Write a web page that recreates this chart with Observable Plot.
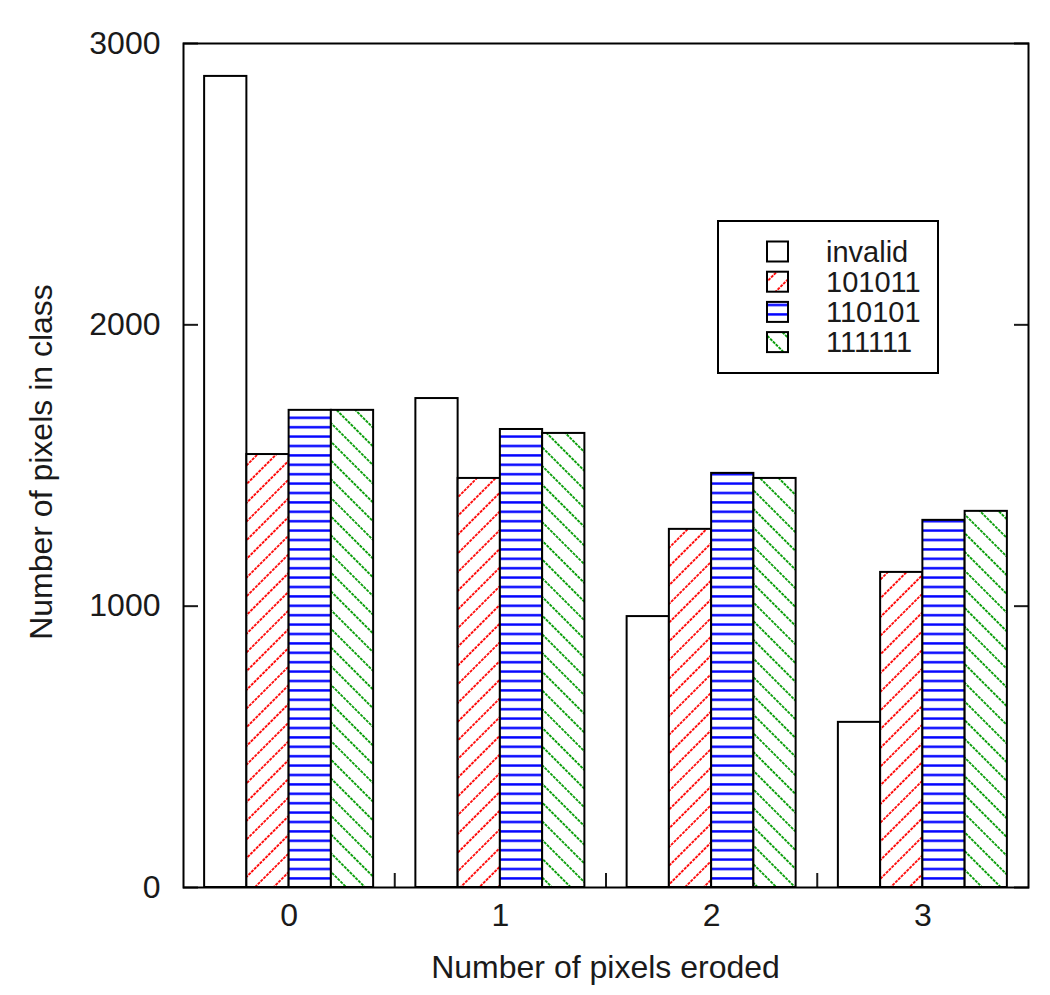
<!DOCTYPE html>
<html>
<head>
<meta charset="utf-8">
<script src="https://cdn.jsdelivr.net/npm/d3@7"></script>
<script src="https://cdn.jsdelivr.net/npm/@observablehq/plot@0.6"></script>
<style>
  html, body { margin: 0; padding: 0; background: white; }
</style>
</head>
<body>
<div id="chart"></div>
<script>
// Data
const groups = [0, 1, 2, 3];
const seriesNames = ["invalid", "101011", "110101", "111111"];
const invalid = [2883, 1738, 963, 587];
const s101011 = [1539, 1454, 1273, 1120];
const s110101 = [1696, 1628, 1472, 1305];
const s111111 = [1696, 1614, 1454, 1337];
const yTicks = [0, 1000, 2000, 3000];
const xMinorTicks = [0.5, 1.5, 2.5];

const seriesValues = [invalid, s101011, s110101, s111111];
const fills = ["white", "url(#hatchRed)", "url(#hatchBlue)", "url(#hatchGreen)"];
const barW = 0.2;

const table = seriesNames.map((name, i) =>
  groups.map((g, j) => ({
    series: name,
    x1: g - 0.4 + i * barW,
    x2: g - 0.4 + (i + 1) * barW,
    value: seriesValues[i][j]
  }))
);

const W = 1050, H = 995;
const mL = 183, mR = 22, mT = 43, mB = 108;
const FONT = "'Liberation Sans', Arial, sans-serif";

const chart = Plot.plot({
  width: W,
  height: H,
  marginLeft: mL,
  marginRight: mR,
  marginTop: mT,
  marginBottom: mB,
  x: { domain: [-0.5, 3.5] },
  y: { domain: [0, 3000] },
  style: { fontFamily: FONT, fontSize: "32px", background: "white", color: "#1a1a1a" },
  marks: [
    ...table.map((rows, i) =>
      Plot.rectY(rows, { x1: "x1", x2: "x2", y: "value", fill: fills[i], stroke: "black", strokeWidth: 2 })
    ),
    Plot.axisY({ ticks: yTicks, tickSize: 0, tickPadding: 23, tickFormat: d3.format("d"), label: null, fontSize: 32 }),
    Plot.axisY({ ticks: yTicks, tickSize: 15, dx: 15, tickFormat: () => "", label: null, strokeWidth: 2 }),
    Plot.axisY({ ticks: yTicks, anchor: "right", tickSize: 15, dx: -15, tickFormat: () => "", label: null, strokeWidth: 2 }),
    Plot.axisX({ ticks: groups, tickSize: 0, tickPadding: 16, tickFormat: d3.format("d"), label: null, fontSize: 32 }),
    Plot.axisX({ ticks: xMinorTicks, tickSize: 14, dy: -14, tickFormat: () => "", label: null, strokeWidth: 2 }),
    Plot.frame({ stroke: "black", strokeWidth: 2 })
  ]
});

document.getElementById("chart").appendChild(chart);

const svg = d3.select(chart);
const defs = svg.insert("defs", ":first-child");

// Red "/" hatch
const sp = 18.7 / Math.SQRT2;
const pr = defs.append("pattern").attr("id", "hatchRed").attr("patternUnits", "userSpaceOnUse")
  .attr("width", sp).attr("height", 20).attr("patternTransform", "rotate(45)");
pr.append("rect").attr("width", sp).attr("height", 20).attr("fill", "white");
pr.append("line").attr("x1", 1).attr("y1", 0).attr("x2", 1).attr("y2", 20)
  .attr("stroke", "#ff0000").attr("stroke-width", 1.8).attr("stroke-dasharray", "3 1");

// Green "\" hatch
const pg = defs.append("pattern").attr("id", "hatchGreen").attr("patternUnits", "userSpaceOnUse")
  .attr("width", sp).attr("height", 20).attr("patternTransform", "rotate(-45)");
pg.append("rect").attr("width", sp).attr("height", 20).attr("fill", "white");
pg.append("line").attr("x1", 1).attr("y1", 0).attr("x2", 1).attr("y2", 20)
  .attr("stroke", "#009a00").attr("stroke-width", 1.8).attr("stroke-dasharray", "3 1");

// Blue horizontal hatch
const pb = defs.append("pattern").attr("id", "hatchBlue").attr("patternUnits", "userSpaceOnUse")
  .attr("width", 20).attr("height", 9.4);
pb.append("rect").attr("width", 20).attr("height", 9.4).attr("fill", "white");
pb.append("rect").attr("x", 0).attr("y", 3).attr("width", 20).attr("height", 2.4).attr("fill", "#0000ff");

// Axis titles
svg.append("text")
  .attr("x", (mL + W - mR) / 2).attr("y", 978)
  .attr("text-anchor", "middle")
  .attr("font-family", FONT)
  .attr("font-size", 32).attr("fill", "#1a1a1a")
  .text("Number of pixels eroded");
svg.append("text")
  .attr("transform", `translate(52, ${(mT + H - mB) / 2 - 3}) rotate(-90)`)
  .attr("text-anchor", "middle")
  .attr("font-family", FONT)
  .attr("font-size", 32).attr("fill", "#1a1a1a")
  .text("Number of pixels in class");

// Legend
const lg = svg.append("g").attr("font-family", FONT).attr("font-size", 29).attr("text-anchor", "start");
lg.append("rect").attr("x", 718).attr("y", 221).attr("width", 220).attr("height", 152)
  .attr("fill", "white").attr("stroke", "black").attr("stroke-width", 2);
seriesNames.forEach((name, i) => {
  const cy = 251.5 + i * 30.2;
  lg.append("rect").attr("x", 767).attr("y", cy - 10).attr("width", 21).attr("height", 20)
    .attr("fill", fills[i]).attr("stroke", "black").attr("stroke-width", 2);
  lg.append("text").attr("x", 826).attr("y", cy).attr("dy", "0.35em")
    .attr("text-anchor", "start").attr("fill", "#1a1a1a").text(name);
});
</script>
</body>
</html>
